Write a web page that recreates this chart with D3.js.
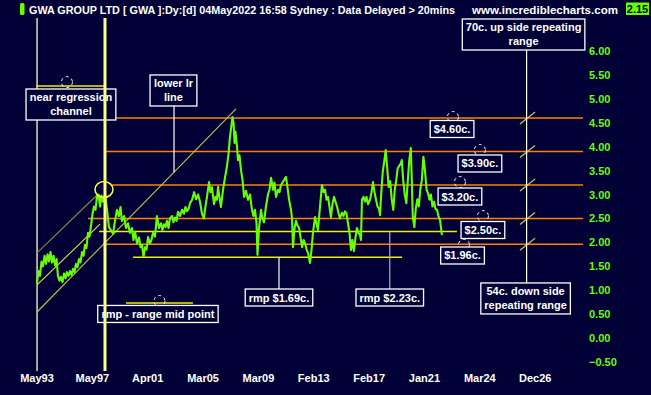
<!DOCTYPE html>
<html>
<head>
<meta charset="utf-8">
<script src="https://cdn.jsdelivr.net/npm/d3@7"></script>
<style>
body{margin:0;background:#000037;}
svg text{font-family:"Liberation Sans",Arial,sans-serif;font-weight:bold;}
</style>
</head>
<body>
<script>
const W=651, H=395;
const plotTop=18, plotBottom=371;

// x axis tick labels and the dates they stand for
const tickLabels=["May93","May97","Apr01","Mar05","Mar09","Feb13","Feb17","Jan21","Mar24","Dec26"];
const tickDates=[1993.33,1997.33,2001.25,2005.17,2009.17,2013.08,2017.08,2021.0,2024.17,2026.92];
const priceTicks=[6,5.5,5,4.5,4,3.5,3,2.5,2,1.5,1,0.5,0,-0.5];

// GWA close
const priceDates=[
1993.37,1993.47,1993.58,1993.69,1993.80,1993.91,1994.02,1994.13,1994.23,1994.34,1994.45,1994.56,1994.67,1994.78,1994.88,1994.99,
1995.10,1995.21,1995.32,1995.43,1995.53,1995.64,1995.75,1995.86,1995.97,1996.08,1996.18,1996.29,1996.40,1996.51,1996.62,1996.73,
1996.83,1996.94,1997.05,1997.16,1997.27,
1997.38,1997.48,1997.59,1997.69,1997.80,1997.91,1998.01,1998.12,1998.26,1998.40,1998.54,1998.69,1998.83,1998.97,1999.11,1999.25,
1999.36,1999.46,1999.61,1999.75,1999.89,2000.03,2000.17,2000.28,2000.39,2000.53,2000.67,2000.78,2000.88,2000.99,2001.10,2001.20,
2001.31,2001.45,2001.55,2001.66,2001.80,2001.94,2002.08,2002.23,2002.33,2002.44,2002.55,2002.65,2002.76,2002.86,2003.01,2003.11,
2003.22,2003.33,2003.43,2003.57,2003.72,2003.86,2003.96,2004.07,2004.18,2004.28,2004.43,2004.57,2004.71,2004.85,2004.99,2005.13,
2005.27,2005.38,2005.49,2005.64,2005.74,2005.85,2006.00,2006.11,2006.21,2006.29,2006.39,2006.50,2006.65,2006.79,2006.93,2007.04,
2007.15,2007.26,2007.33,2007.41,2007.48,2007.55,2007.66,2007.73,2007.84,2007.95,2008.06,2008.17,2008.31,2008.45,2008.60,2008.74,
2008.85,2008.96,2009.07,2009.14,
2009.25,2009.39,2009.49,2009.60,2009.74,2009.88,2009.99,2010.10,2010.24,2010.34,2010.45,2010.59,2010.70,2010.80,2010.91,2011.01,
2011.15,2011.26,2011.37,2011.51,2011.58,2011.65,2011.76,2011.86,2011.97,2012.08,2012.18,2012.29,2012.40,2012.50,2012.61,2012.71,
2012.85,2012.96,2013.06,
2013.21,2013.31,2013.42,2013.57,2013.71,2013.82,2013.93,2014.04,2014.15,2014.25,2014.36,2014.47,2014.58,2014.69,2014.80,2014.90,
2015.01,2015.16,2015.27,2015.37,2015.48,2015.59,2015.70,2015.81,2015.91,2016.02,2016.13,2016.24,2016.35,2016.46,2016.53,2016.60,
2016.71,2016.82,2016.93,2017.04,
2017.18,2017.29,2017.39,2017.50,2017.60,2017.71,2017.82,2017.89,2017.97,2018.08,2018.19,2018.29,2018.40,2018.50,2018.61,2018.72,
2018.83,2018.93,2019.04,2019.14,2019.25,2019.36,2019.43,2019.53,2019.64,2019.75,2019.86,2019.96,2020.07,2020.14,2020.21,2020.32,
2020.42,2020.53,2020.64,2020.74,2020.85,2020.96,
2021.06,2021.15,2021.23,2021.32,2021.40,2021.49,2021.58,2021.66,2021.75,2021.83,2021.92,2021.98,2022.03];
const priceValues=[
1.15,1.40,1.30,1.60,1.50,1.72,1.55,1.75,1.60,1.80,1.58,1.72,1.52,1.65,1.30,1.20,
1.28,1.17,1.35,1.25,1.38,1.30,1.40,1.32,1.45,1.38,1.55,1.48,1.65,1.58,1.80,1.72,
1.95,1.88,2.20,2.12,2.35,
2.60,2.75,2.68,2.95,3.00,2.75,2.98,2.85,3.00,2.70,2.32,2.25,2.18,2.45,2.68,2.55,
2.74,2.45,2.55,2.30,2.40,2.20,2.30,2.05,2.22,1.98,2.10,1.90,1.95,1.70,1.90,1.85,
2.11,1.98,2.05,2.20,2.12,2.55,2.30,2.40,2.26,2.38,2.32,2.45,2.30,2.50,2.55,2.42,
2.52,2.45,2.64,2.55,2.68,2.60,2.74,2.65,2.70,2.82,2.89,3.05,2.90,3.00,2.85,2.60,
2.50,2.75,2.95,3.26,3.05,3.15,2.80,2.95,2.89,3.16,2.95,2.74,3.10,3.35,3.58,3.83,
4.20,4.45,4.62,4.50,4.08,4.31,4.00,3.72,3.82,3.51,3.30,2.95,3.08,2.89,3.00,2.68,
2.55,2.68,2.40,1.74,
2.30,2.68,2.50,2.42,2.75,3.00,3.10,3.35,3.10,3.25,2.95,3.10,3.05,3.20,3.25,3.30,
3.37,3.15,2.90,2.68,2.50,1.90,2.30,2.45,2.35,2.30,2.11,1.90,2.05,1.98,1.85,1.78,
1.57,1.85,2.20,
2.53,2.40,2.26,2.75,3.20,3.05,3.10,2.89,2.95,2.75,2.53,2.80,2.95,2.85,2.75,2.62,
2.50,2.62,2.55,2.65,2.61,2.40,2.20,1.84,2.05,1.82,2.10,2.30,2.20,2.15,2.05,2.89,
2.95,2.85,2.95,2.80,
2.89,3.05,3.26,3.05,2.90,2.75,2.70,2.57,3.00,3.47,3.70,3.93,3.55,3.16,3.28,2.89,
2.68,3.10,3.30,3.55,3.60,3.65,3.72,3.30,3.00,2.82,3.30,3.72,3.97,3.30,2.53,2.32,
2.70,2.90,2.75,3.10,3.30,3.79,
3.50,3.10,3.03,2.89,3.00,2.75,2.85,2.70,2.68,2.55,2.47,2.30,2.15];

// horizontal price levels (orange) and where each starts
const levels=[4.60,3.90,3.20,2.50,1.96];
const levelStart=[1998.05,1998.26,1998.76,1997.05,1998.12];
const levelEnd=2029.32;
const levelLabels=["$4.60c.","$3.90c.","$3.20c.","$2.50c.","$1.96c."];
const levelLabelDate=[2022.61,2024.20,2023.06,2024.35,2023.21];
const levelLabelPrice=[4.370,3.649,2.959,2.259,1.726];
const levelMarkDate=[2022.66,2024.20,2023.06,2024.35,2023.29];
const levelMarkPrice=[4.62,3.93,3.26,2.55,1.95];

// range mid points (yellow)
const rmpValues=[2.23,1.69];
const rmpStart=[1997.84,2000.24];
const rmpEnd=[2022.89,2019.45];
const rmpLabelDate=[2018.58,2010.66];

// regression channel
const channelStart=[[1993.37,1.78],[1993.37,1.11],[1993.37,0.545]];
const channelEnd=[[1997.70,2.99],[1997.91,2.38],[2007.59,4.79]];
const channelColor=["#8a8a3c","#e0e040","#c4c440"];

const svg=d3.select("body").append("svg").attr("width",W).attr("height",H);

// background with faint dot grid
const pat=svg.append("defs").append("pattern").attr("id","dots")
    .attr("width",8).attr("height",8).attr("patternUnits","userSpaceOnUse");
pat.append("rect").attr("width",8).attr("height",8).attr("fill","#000037");
pat.append("rect").attr("x",3).attr("y",3).attr("width",1).attr("height",1).attr("fill","#14145a");
svg.append("rect").attr("width",W).attr("height",H).attr("fill","url(#dots)");

const x=d3.scaleLinear().domain(tickDates).range(tickDates.map((d,i)=>36.5+i*55.35));
const y=d3.scaleLinear().domain([6,-0.5]).range([51,362]);

// axes
const yAxis=svg.append("g").attr("transform","translate(585,0)")
    .call(d3.axisRight(y).tickValues(priceTicks).tickFormat(d3.format(".2f")).tickSize(0).tickPadding(4));
yAxis.select(".domain").remove();
yAxis.attr("font-family",null).attr("font-size",11);
yAxis.selectAll("text").attr("fill","#66ff00");

const xAxis=svg.append("g").attr("transform","translate(0,"+plotBottom+")")
    .call(d3.axisBottom(x).tickValues(tickDates).tickFormat((d,i)=>tickLabels[i]).tickSize(0).tickPadding(3));
xAxis.select(".domain").remove();
xAxis.attr("font-family",null).attr("font-size",11);
xAxis.selectAll("text").attr("fill","#ffffff");

// thin start line
svg.append("line").attr("x1",x(1993.37)).attr("x2",x(1993.37)).attr("y1",plotTop).attr("y2",plotBottom)
    .attr("stroke","#ffffc0").attr("stroke-width",1.3);

// orange levels
svg.selectAll(".lvl").data(levels).enter().append("line")
    .attr("class","lvl")
    .attr("x1",(d,i)=>x(levelStart[i])).attr("x2",x(levelEnd))
    .attr("y1",d=>y(d)).attr("y2",d=>y(d))
    .attr("stroke","#ff8000").attr("stroke-width",1.6);

// small diagonal marks on the projection line
svg.selectAll(".proj").data(levels).enter().append("line")
    .attr("x1",x(2026.19)).attr("x2",x(2026.94))
    .attr("y1",d=>y(d-0.125)).attr("y2",d=>y(d+0.125))
    .attr("stroke","#c8c850").attr("stroke-width",1.2);

// regression channel
channelStart.forEach((s,i)=>{
  svg.append("line").attr("x1",x(s[0])).attr("y1",y(s[1]))
     .attr("x2",x(channelEnd[i][0])).attr("y2",y(channelEnd[i][1]))
     .attr("stroke",channelColor[i]).attr("stroke-width",1.1);
});

// rmp lines
svg.selectAll(".rmp").data(rmpValues).enter().append("line")
    .attr("x1",(d,i)=>x(rmpStart[i])).attr("x2",(d,i)=>x(rmpEnd[i]))
    .attr("y1",d=>y(d)).attr("y2",d=>y(d))
    .attr("stroke","#f0f000").attr("stroke-width",1.5);

// price line
const series=priceDates.map((d,i)=>[d,priceValues[i]]);
svg.append("path").datum(series)
    .attr("d",d3.line().x(d=>x(d[0])).y(d=>y(d[1])))
    .attr("fill","none").attr("stroke","#66ff00").attr("stroke-width",2.1).attr("stroke-linejoin","round");

// leader lines
const lowerAt=d=>channelStart[2][1]+(d-channelStart[2][0])*(channelEnd[2][1]-channelStart[2][1])/(channelEnd[2][0]-channelStart[2][0]);
svg.append("line").attr("x1",x(2003.15)).attr("x2",x(2003.15)).attr("y1",y(5.175)).attr("y2",y(lowerAt(2003.15)))
    .attr("stroke","#ffffff").attr("stroke-width",1.2);
svg.append("line").attr("x1",x(rmpLabelDate[1])).attr("x2",x(rmpLabelDate[1])).attr("y1",y(rmpValues[1])).attr("y2",y(0.848))
    .attr("stroke","#ffffff").attr("stroke-width",1.2);
svg.append("line").attr("x1",x(rmpLabelDate[0])).attr("x2",x(rmpLabelDate[0])).attr("y1",y(rmpValues[0])).attr("y2",y(0.848))
    .attr("stroke","#b0b0b0").attr("stroke-width",1.2);
svg.append("line").attr("x1",x(2026.52)).attr("x2",x(2026.52)).attr("y1",y(6.345)).attr("y2",y(0.828))
    .attr("stroke","#ffffff").attr("stroke-width",1.2);

// decorations on left notes
svg.append("line").attr("x1",x(1993.30)).attr("x2",x(1998.19)).attr("y1",y(5.27)).attr("y2",y(5.27))
    .attr("stroke","#f0f000").attr("stroke-width",1.5);
svg.append("line").attr("x1",x(1999.75)).attr("x2",x(2004.49)).attr("y1",y(0.733)).attr("y2",y(0.733))
    .attr("stroke","#f0f000").attr("stroke-width",1.5);

// dashed anchor circles
const marks=levelMarkDate.map((d,i)=>[d,levelMarkPrice[i]]).concat([[1995.53,5.35],[2002.12,0.775]]);
svg.selectAll(".mark").data(marks).enter().append("circle")
    .attr("cx",d=>x(d[0])).attr("cy",d=>y(d[1])).attr("r",5.5)
    .attr("fill","none").attr("stroke","#ffffff").attr("stroke-width",1).attr("stroke-dasharray","3,3");

// note boxes
function note(lines,date,price){
  const g=svg.append("g").attr("transform","translate("+x(date)+","+y(price)+")");
  const n=lines.length;
  const t=g.append("text").attr("text-anchor","middle").attr("fill","#ffffff").attr("font-size",11);
  lines.forEach((s,i)=>t.append("tspan").attr("x",0).attr("y",(i-(n-1)/2)*14+4).text(s));
  const bw=t.node().getBBox().width+7, bh=n*14+3;
  g.insert("rect","text").attr("x",-bw/2).attr("y",-bh/2).attr("width",bw).attr("height",bh)
    .attr("fill","#000037").attr("stroke","#ffffff").attr("stroke-width",1.3);
}
note(["70c. up side repeating","range"],2026.37,6.345);
note(["near regression","channel"],1995.82,4.882);
note(["lower lr","line"],2003.11,5.175);
levelLabels.forEach((s,i)=>note([s],levelLabelDate[i],levelLabelPrice[i]));
note(["rmp $1.69c."],rmpLabelDate[1],0.848);
note(["rmp $2.23c."],rmpLabelDate[0],0.848);
note(["rmp - range mid point"],2002.01,0.504);
note(["54c. down side","repeating range"],2026.47,0.828);

// thick yellow marker line and circle
svg.append("line").attr("x1",x(1998.26)).attr("x2",x(1998.26)).attr("y1",plotTop).attr("y2",plotBottom)
    .attr("stroke","#ffff88").attr("stroke-width",3);
svg.append("ellipse").attr("cx",x(1998.19)).attr("cy",y(3.105)).attr("rx",9).attr("ry",8)
    .attr("fill","none").attr("stroke","#ffff40").attr("stroke-width",1.5);

// header
svg.append("rect").attr("x",20).attr("y",3).attr("width",4.5).attr("height",12).attr("rx",1.5).attr("fill","#66ff00");
svg.append("text").attr("x",29).attr("y",13.5).attr("fill","#ffffff").attr("font-size",11.5)
    .attr("textLength",426).attr("lengthAdjust","spacingAndGlyphs")
    .text("GWA GROUP LTD [ GWA ]:Dy:[d]  04May2022 16:58 Sydney : Data Delayed > 20mins");
svg.append("text").attr("x",472).attr("y",13.5).attr("fill","#ffffff").attr("font-size",11.5)
    .attr("textLength",146).attr("lengthAdjust","spacingAndGlyphs")
    .text("www.incrediblecharts.com");
svg.append("rect").attr("x",626).attr("y",2.5).attr("width",23).attr("height",12.5).attr("fill","#66ff00");
svg.append("text").attr("x",637.5).attr("y",13).attr("text-anchor","middle").attr("fill","#000000").attr("font-size",11)
    .text(d3.format(".2f")(priceValues[priceValues.length-1]));
</script>
</body>
</html>
